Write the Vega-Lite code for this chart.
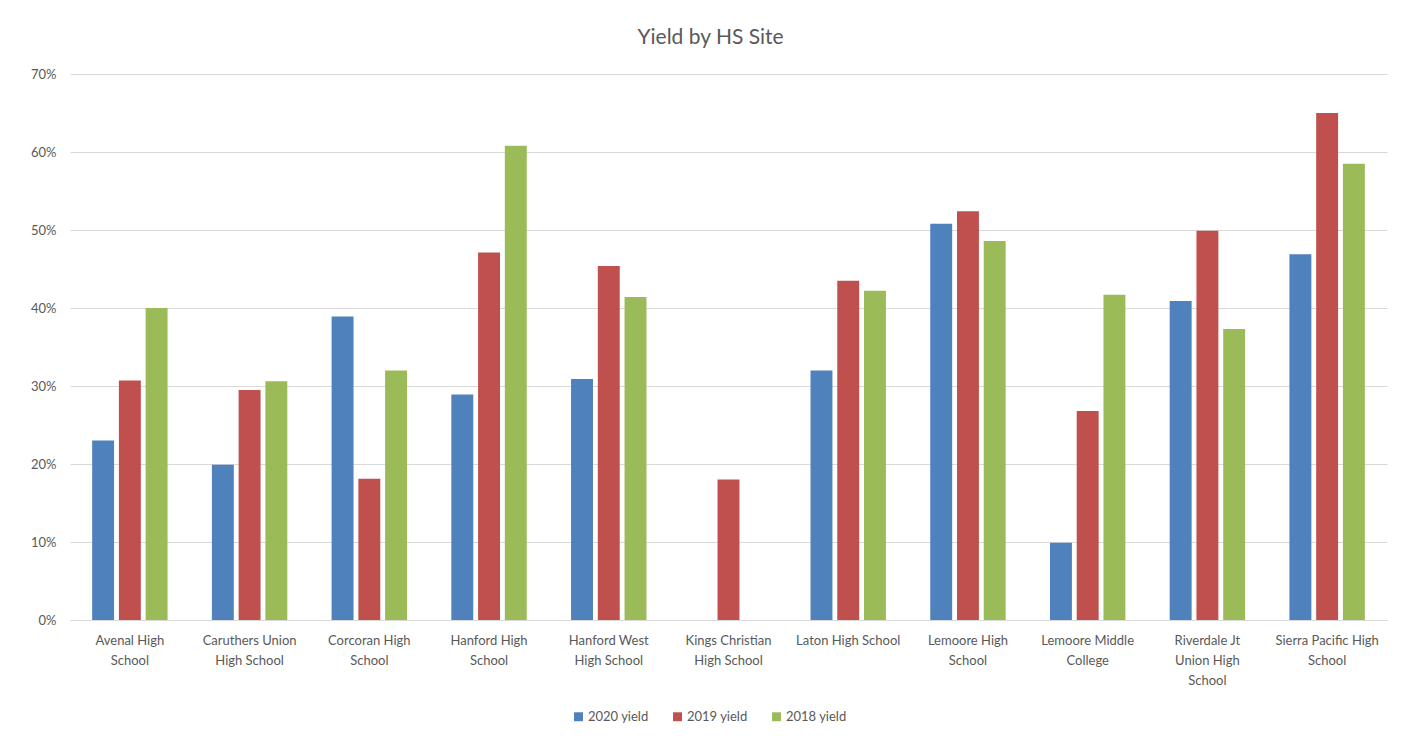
{
  "$schema": "https://vega.github.io/schema/vega-lite/v6.json",
  "autosize": "none",
  "width": 1317,
  "height": 546,
  "padding": {"left": 70, "top": 74, "right": 30, "bottom": 119},
  "background": "white",
  "title": {
    "text": "Yield by HS Site",
    "font": "Lato",
    "fontSize": 21,
    "fontWeight": "normal",
    "color": "#595959",
    "anchor": "middle",
    "dx": -18,
    "offset": 20
  },
  "data": {
    "values": [
      {"school": "Avenal High School", "series": "2020 yield", "value": 0.23},
      {"school": "Avenal High School", "series": "2019 yield", "value": 0.307},
      {"school": "Avenal High School", "series": "2018 yield", "value": 0.40},
      {"school": "Caruthers Union High School", "series": "2020 yield", "value": 0.199},
      {"school": "Caruthers Union High School", "series": "2019 yield", "value": 0.295},
      {"school": "Caruthers Union High School", "series": "2018 yield", "value": 0.306},
      {"school": "Corcoran High School", "series": "2020 yield", "value": 0.389},
      {"school": "Corcoran High School", "series": "2019 yield", "value": 0.181},
      {"school": "Corcoran High School", "series": "2018 yield", "value": 0.32},
      {"school": "Hanford High School", "series": "2020 yield", "value": 0.289},
      {"school": "Hanford High School", "series": "2019 yield", "value": 0.471},
      {"school": "Hanford High School", "series": "2018 yield", "value": 0.608},
      {"school": "Hanford West High School", "series": "2020 yield", "value": 0.309},
      {"school": "Hanford West High School", "series": "2019 yield", "value": 0.454},
      {"school": "Hanford West High School", "series": "2018 yield", "value": 0.414},
      {"school": "Kings Christian High School", "series": "2019 yield", "value": 0.18},
      {"school": "Laton High School", "series": "2020 yield", "value": 0.32},
      {"school": "Laton High School", "series": "2019 yield", "value": 0.435},
      {"school": "Laton High School", "series": "2018 yield", "value": 0.422},
      {"school": "Lemoore High School", "series": "2020 yield", "value": 0.508},
      {"school": "Lemoore High School", "series": "2019 yield", "value": 0.524},
      {"school": "Lemoore High School", "series": "2018 yield", "value": 0.486},
      {"school": "Lemoore Middle College", "series": "2020 yield", "value": 0.099},
      {"school": "Lemoore Middle College", "series": "2019 yield", "value": 0.268},
      {"school": "Lemoore Middle College", "series": "2018 yield", "value": 0.417},
      {"school": "Riverdale Jt Union High School", "series": "2020 yield", "value": 0.409},
      {"school": "Riverdale Jt Union High School", "series": "2019 yield", "value": 0.499},
      {"school": "Riverdale Jt Union High School", "series": "2018 yield", "value": 0.373},
      {"school": "Sierra Pacific High School", "series": "2020 yield", "value": 0.469},
      {"school": "Sierra Pacific High School", "series": "2019 yield", "value": 0.65},
      {"school": "Sierra Pacific High School", "series": "2018 yield", "value": 0.585}
    ]
  },
  "mark": {"type": "bar"},
  "encoding": {
    "x": {
      "field": "school",
      "type": "nominal",
      "sort": null,
      "title": null,
      "scale": {"paddingInner": 0.37, "paddingOuter": 0.185},
      "axis": {
        "labelAngle": 0,
        "labelFont": "Lato",
        "labelFontSize": 13,
        "labelColor": "#595959",
        "labelPadding": 14,
        "labelLineHeight": 20,
        "labelBaseline": "top",
        "labelLimit": 300,
        "ticks": false,
        "domainColor": "#d9d9d9",
        "domainWidth": 1,
        "grid": false,
        "labelExpr": "{'Avenal High School':['Avenal High','School'],'Caruthers Union High School':['Caruthers Union','High School'],'Corcoran High School':['Corcoran High','School'],'Hanford High School':['Hanford High','School'],'Hanford West High School':['Hanford West','High School'],'Kings Christian High School':['Kings Christian','High School'],'Laton High School':['Laton High School'],'Lemoore High School':['Lemoore High','School'],'Lemoore Middle College':['Lemoore Middle','College'],'Riverdale Jt Union High School':['Riverdale Jt','Union High','School'],'Sierra Pacific High School':['Sierra Pacific High','School']}[datum.label] || datum.label"
      }
    },
    "xOffset": {
      "field": "series",
      "type": "nominal",
      "scale": {"domain": ["2020 yield", "2019 yield", "2018 yield"], "paddingInner": 0.18, "paddingOuter": 0}
    },
    "y": {
      "field": "value",
      "type": "quantitative",
      "title": null,
      "scale": {"domain": [0, 0.7], "nice": false},
      "axis": {
        "values": [0, 0.1, 0.2, 0.3, 0.4, 0.5, 0.6, 0.7],
        "format": ".0%",
        "labelFont": "Lato",
        "labelFontSize": 13,
        "labelColor": "#595959",
        "labelPadding": 14,
        "ticks": false,
        "domain": false,
        "gridColor": "#d9d9d9",
        "gridWidth": 1
      }
    },
    "color": {
      "field": "series",
      "type": "nominal",
      "scale": {"domain": ["2020 yield", "2019 yield", "2018 yield"], "range": ["#4F81BD", "#C0504D", "#9BBB59"]},
      "legend": {
        "title": null,
        "orient": "none",
        "direction": "horizontal",
        "legendX": 502,
        "legendY": 636,
        "symbolType": "square",
        "symbolSize": 80,
        "symbolStrokeWidth": 0,
        "labelFont": "Lato",
        "labelFontSize": 13,
        "labelColor": "#595959",
        "columnPadding": 22,
        "labelOffset": 3
      }
    }
  },
  "config": {
    "view": {"stroke": null}
  }
}
